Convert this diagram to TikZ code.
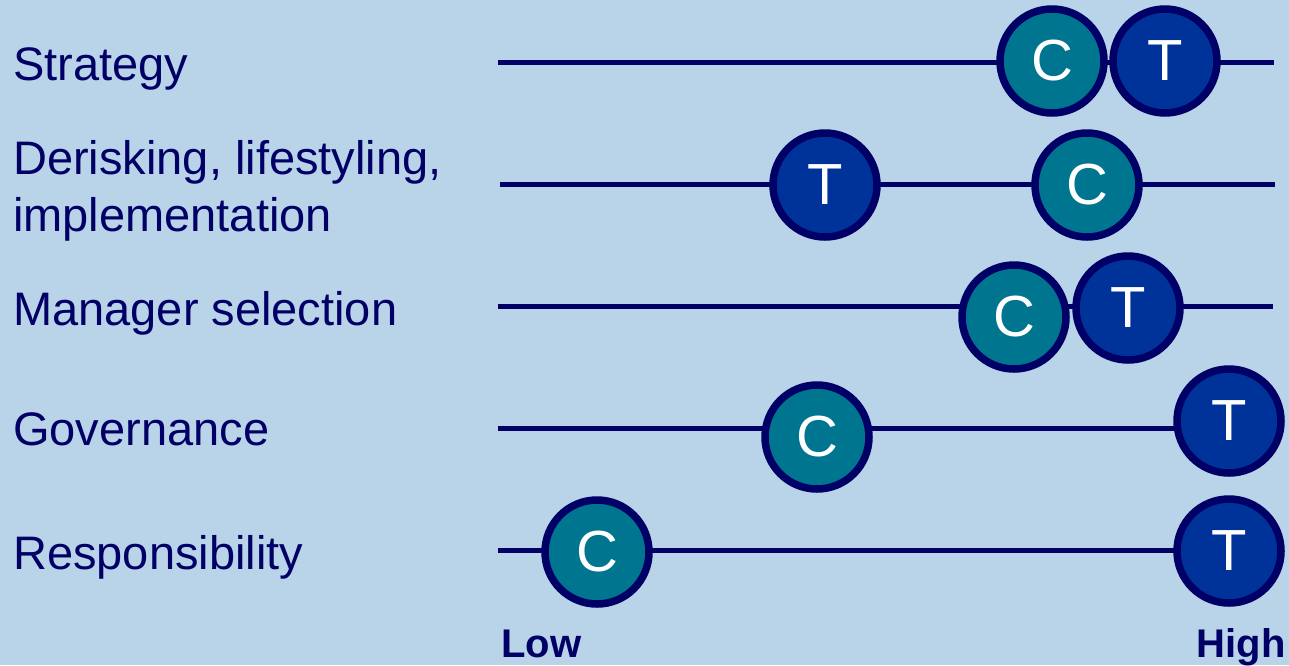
\documentclass[tikz,border=0pt]{standalone}
\usepackage{fontspec}
\setmainfont{Liberation Sans}
\usetikzlibrary{positioning}

\definecolor{bgblue}{HTML}{B9D3E8}
\definecolor{navy}{HTML}{000066}
\definecolor{tealc}{HTML}{00758F}
\definecolor{royal}{HTML}{003399}

\tikzset{
  rowlabel/.style={anchor=base west, text=navy, inner sep=0pt, align=left,
    font=\fontsize{47}{57}\selectfont},
  axislabel/.style={text=navy, inner sep=0pt, font=\fontsize{40}{45}\selectfont\bfseries},
  scaleline/.style={draw=navy, line width=5pt},
  dot/.style={circle, draw=navy, line width=7.5pt, minimum size=104pt, inner sep=0pt,
    text=white, font=\fontsize{58}{60}\selectfont},
  client/.style={dot, fill=tealc},
  trustee/.style={dot, fill=royal}
}

\begin{document}
\begin{tikzpicture}[x=1pt, y=-1pt]
                    \fill[bgblue] (0,0) rectangle (1289,665);
                    \useasboundingbox (0,0) rectangle (1289,665);
                    % row labels (base = last line)
                    \node (strategy) [rowlabel] at (13,80) {Strategy};
                    \node (derisk) [rowlabel] at (13,231) {Derisking, lifestyling,\\implementation};
                    \node (manager) [rowlabel] at (13,325) {Manager selection};
                    \node (govern) [rowlabel] at (13,445) {Governance};
                    \node (respons) [rowlabel] at (13,569) {Responsibility};
                    % scales
                    \coordinate (s1) at (498,62);  \coordinate (e1) at (1274,62);
                    \coordinate (s2) at (500,184); \coordinate (e2) at (1275,184);
                    \coordinate (s3) at (498,306); \coordinate (e3) at (1273,306);
                    \coordinate (s4) at (498,428); \coordinate (e4) at (1229,428);
                    \coordinate (s5) at (498,550); \coordinate (e5) at (1229,550);
                    \foreach \r in {1,...,5}
                      \draw[scaleline] (s\r) -- (e\r);
                    % C and T positions
                    \node (c1) [client] at (1052,61) {C};
                    \node (t1) [trustee] at (1165,61) {T};
                    \node (t2) [trustee] at (825,185) {T};
                    \node (c2) [client] at (1087,185) {C};
                    \node (c3) [client] at (1014,317) {C};
                    \node (t3) [trustee] at (1128,308) {T};
                    \node (c4) [client] at (817,437) {C};
                    \node (t4) [trustee] at (1229,421) {T};
                    \node (c5) [client] at (597,552) {C};
                    \node (t5) [trustee] at (1229,551) {T};
                    % ends of the scale
                    \node (low) [axislabel, anchor=base west] at (501,657) {Low};
                    \node (high) [axislabel, anchor=base east] at (1286,657) {High};
                \end{tikzpicture}
\end{document}
